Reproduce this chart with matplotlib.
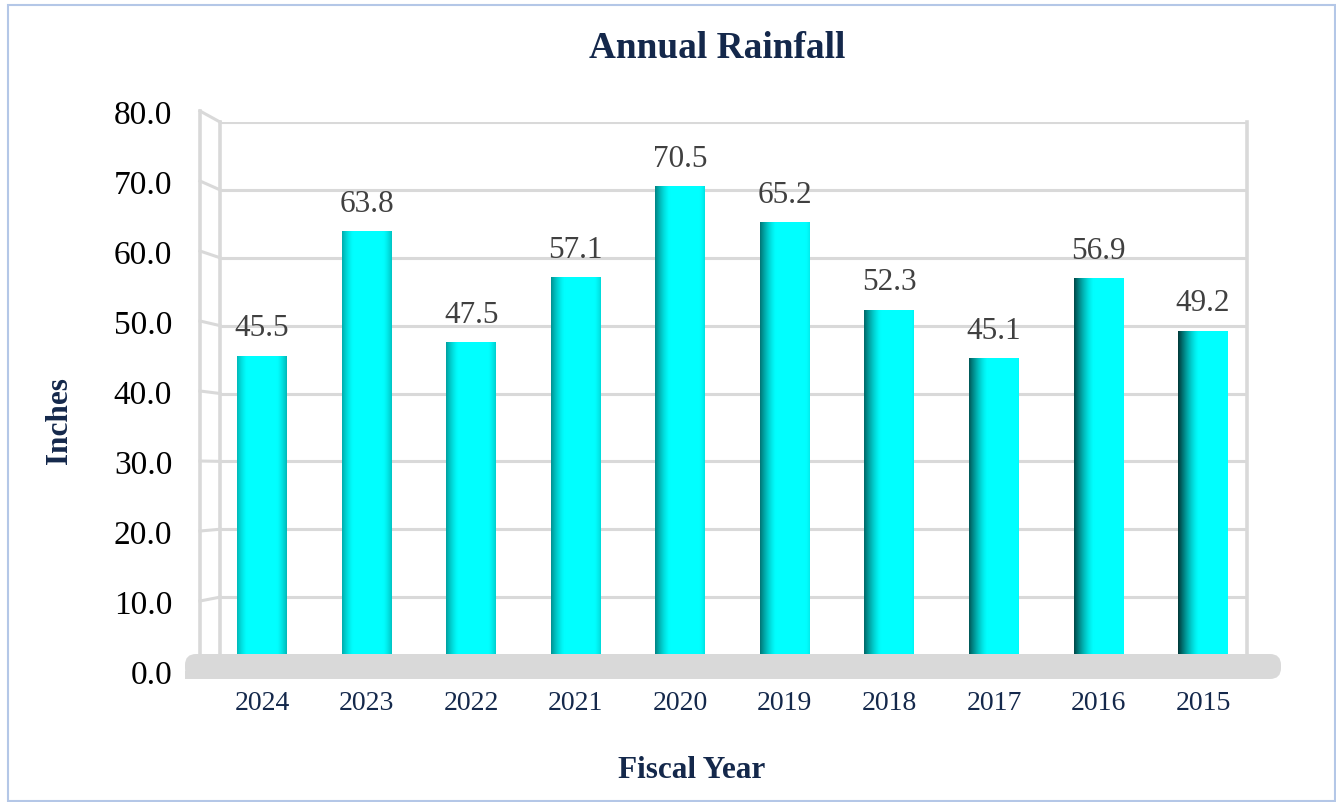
import numpy as np
import matplotlib
matplotlib.use("Agg")
import matplotlib.pyplot as plt
from matplotlib.patches import FancyBboxPatch, Rectangle
from matplotlib.lines import Line2D
from matplotlib.transforms import IdentityTransform

# 数据
years = ["2024", "2023", "2022", "2021", "2020", "2019", "2018", "2017", "2016", "2015"]
rainfall = [45.5, 63.8, 47.5, 57.1, 70.5, 65.2, 52.3, 45.1, 56.9, 49.2]
yticks = [0, 10, 20, 30, 40, 50, 60, 70, 80]

W, H = 1336, 803
navy = "#14284B"
wall = "#D9D9D9"
plt.rcParams["font.family"] = ["Liberation Serif", "DejaVu Serif"]

fig = plt.figure(figsize=(W / 100, H / 100), dpi=100)

def fx(px):
    return px / W

def fy(py):
    return 1 - py / H

# 外框
fig.patches.append(Rectangle((fx(8), fy(802)), fx(1327), fy(6) - fy(802), transform=fig.transFigure,
                             fill=False, ec="#B4C7E7", lw=1.5, zorder=0))

# 后墙 (网格和柱子)
ax = fig.add_axes([fx(220), fy(666), fx(1247) - fx(220), fy(123) - fy(666)])
x = np.arange(len(years))
for v in yticks[1:]:
    ax.axhline(v, color=wall, lw=2.2, zorder=1)
for s in ["top", "bottom"]:
    ax.spines[s].set_visible(False)
for s in ["left", "right"]:
    ax.spines[s].set_color(wall)
    ax.spines[s].set_linewidth(2.6)
ax.set_xticks([])
ax.set_yticks([])

# 圆柱状渐变
bw = 0.478
u = np.linspace(0, 1, 120)
for i, (xi, val) in enumerate(zip(x, rainfall)):
    uh = 0.5 + 0.22 * i / (len(x) - 1)
    dist = np.abs(u - uh)
    d = np.clip((dist - 0.3) / 0.42, 0, 1) ** 1.4
    b = 1 - 0.78 * d
    img = np.zeros((1, len(u), 3))
    img[0, :, 1] = b
    img[0, :, 2] = b
    ax.imshow(img, extent=(xi - bw / 2, xi + bw / 2, 0, val), aspect="auto",
              interpolation="bilinear", zorder=3)
    ax.annotate(f"{val:.1f}", (xi, val), xytext=(0, 10), textcoords="offset points",
                ha="center", va="bottom", fontsize=22.5, color="#404040", zorder=4)
ax.set_xlim(-0.402, 9.42)
ax.set_ylim(0, 80)

# 前墙刻度
fax = fig.add_axes([fx(200), fy(672), fx(20), fy(112) - fy(672)])
fax.set_ylim(0, 80)
fax.set_xlim(0, 1)
fax.patch.set_visible(False)
for s in ["top", "bottom", "right", "left"]:
    fax.spines[s].set_visible(False)
fax.set_xticks([])
fax.set_yticks(yticks)
fax.set_yticklabels([f"{v:.1f}" for v in yticks], fontsize=24, color="black")
fax.tick_params(axis="y", length=0, pad=20)

# 侧墙线条
inv = fig.transFigure.inverted()
for v in yticks[1:]:
    p1 = inv.transform(fax.transData.transform((0, v)))
    p2 = inv.transform(ax.transData.transform((-0.402, v)))
    fig.lines.append(Line2D([p1[0], p2[0]], [p1[1], p2[1]], transform=fig.transFigure,
                            color=wall, lw=2.2, zorder=1))
p_top = inv.transform(fax.transData.transform((0, 80)))
fig.lines.append(Line2D([p_top[0], p_top[0]], [p_top[1], fy(655)], transform=fig.transFigure,
                        color=wall, lw=2.6, zorder=1))

# 底座 (像素坐标)
floor = FancyBboxPatch((185, H - 680), 1096, 25, boxstyle="round,pad=0,rounding_size=11",
                       transform=IdentityTransform(), fc=wall, ec="none", zorder=5)
fig.patches.append(floor)
fig.patches.append(Rectangle((185, H - 680), 40, 8, transform=IdentityTransform(),
                             fc=wall, ec="none", zorder=5))

# 年份标签
for xi, yr in zip(x, years):
    px = inv.transform(ax.transData.transform((xi, 0)))[0]
    fig.text(px, fy(704), yr, ha="center", va="center", fontsize=20, color=navy)

fig.text(fx(717), fy(49), "Annual Rainfall", ha="center", va="center", fontsize=26.8,
         fontweight="bold", color=navy)
fig.text(fx(692), fy(771), "Fiscal Year", ha="center", va="center", fontsize=22.5,
         fontweight="bold", color=navy)
fig.text(fx(60), fy(421), "Inches", ha="center", va="center", rotation=90, fontsize=22.5,
         fontweight="bold", color=navy)

fig.savefig("out.png", dpi=100)
